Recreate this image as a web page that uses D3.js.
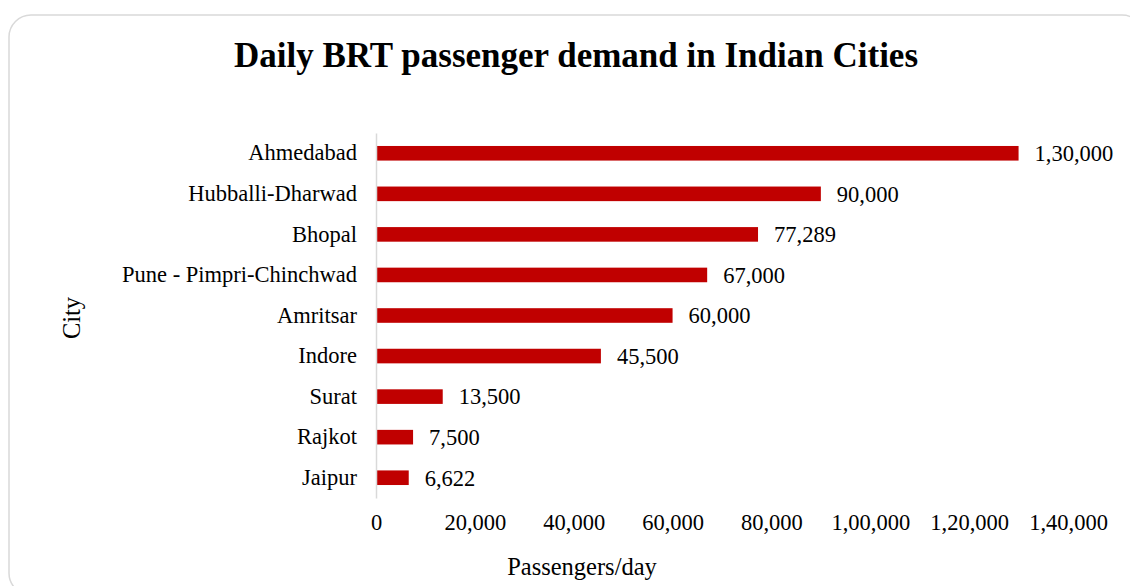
<!DOCTYPE html>
<html>
<head>
<meta charset="utf-8">
<script src="https://cdn.jsdelivr.net/npm/d3@7"></script>
<style>
  html, body { margin: 0; padding: 0; background: #fff; }
  svg { display: block; }
  text { font-family: "Liberation Serif", "Times New Roman", serif; fill: #000; }
</style>
</head>
<body>
<svg id="chart" width="1130" height="586"></svg>
<script>
const cities = ["Ahmedabad", "Hubballi-Dharwad", "Bhopal", "Pune - Pimpri-Chinchwad", "Amritsar", "Indore", "Surat", "Rajkot", "Jaipur"];
const passengers = [130000, 90000, 77289, 67000, 60000, 45500, 13500, 7500, 6622];
const valueLabels = ["1,30,000", "90,000", "77,289", "67,000", "60,000", "45,500", "13,500", "7,500", "6,622"];
const tickValues = [0, 20000, 40000, 60000, 80000, 100000, 120000, 140000];
const tickLabels = ["0", "20,000", "40,000", "60,000", "80,000", "1,00,000", "1,20,000", "1,40,000"];
const titleText = "Daily BRT passenger demand in Indian Cities";
const xTitle = "Passengers/day";
const yTitle = "City";

const FS = 22.5;
const FT = 24.5;
const FF = "Liberation Serif, Times New Roman, serif";

const svg = d3.select("#chart");

svg.append("rect")
  .attr("x", 9).attr("y", 15)
  .attr("width", 1135).attr("height", 580)
  .attr("rx", 22).attr("ry", 22)
  .attr("fill", "#fff")
  .attr("stroke", "#d9d9d9")
  .attr("stroke-width", 1.5);

const x = d3.scaleLinear().domain([0, 140000]).range([376, 1068]);
const y = d3.scaleBand().domain(cities).range([132, 497]).paddingInner(0.64).paddingOuter(0.32);

svg.append("text")
  .attr("x", 576).attr("y", 67)
  .attr("text-anchor", "middle")
  .attr("font-size", 35)
  .attr("font-weight", "bold")
  .text(titleText);

// Bars
svg.append("g").selectAll("rect")
  .data(cities)
  .join("rect")
  .attr("x", x(0))
  .attr("y", d => y(d) + 1)
  .attr("width", (d, i) => x(passengers[i]) - x(0))
  .attr("height", y.bandwidth())
  .attr("fill", "#c00000");

// Value labels
svg.append("g").selectAll("text")
  .data(cities)
  .join("text")
  .attr("x", (d, i) => x(passengers[i]) + 16)
  .attr("y", d => y(d) + y.bandwidth() / 2 + 1)
  .attr("dy", "0.35em")
  .attr("font-size", FS)
  .text((d, i) => valueLabels[i]);

// Y axis
const yAxis = d3.axisLeft(y).tickSize(0).tickPadding(19);
const gy = svg.append("g").attr("transform", `translate(${x(0)},1)`).call(yAxis);
gy.select(".domain").attr("stroke", "#d9d9d9").attr("stroke-width", 1.5);
gy.selectAll("text").attr("font-size", FS).attr("font-family", FF).attr("fill", "#000");

// X axis
const xAxis = d3.axisBottom(x).tickValues(tickValues).tickSize(0).tickPadding(0)
  .tickFormat((d, i) => tickLabels[i]);
const gx = svg.append("g").attr("transform", `translate(0,514)`).call(xAxis);
gx.select(".domain").remove();
gx.selectAll("text").attr("font-size", FS).attr("font-family", FF).attr("fill", "#000");

// Axis titles
svg.append("text")
  .attr("x", 582).attr("y", 575)
  .attr("text-anchor", "middle")
  .attr("font-size", FT)
  .text(xTitle);

svg.append("text")
  .attr("transform", "translate(80,318) rotate(-90)")
  .attr("text-anchor", "middle")
  .attr("font-size", FT)
  .text(yTitle);
</script>
</body>
</html>
